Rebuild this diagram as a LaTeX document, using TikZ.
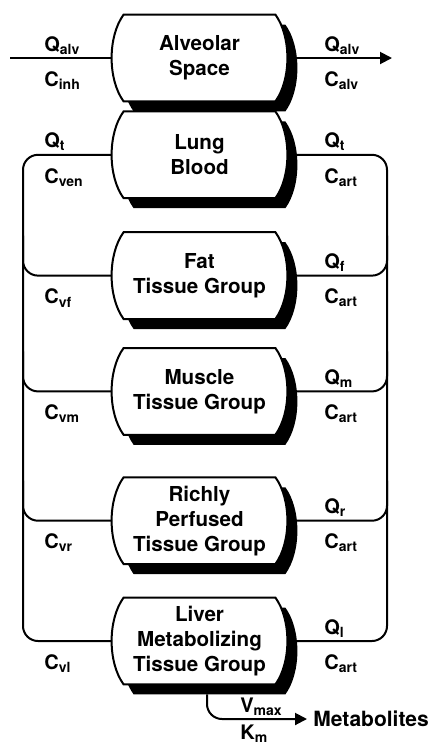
\documentclass[tikz,border=0pt]{standalone}
\usepackage{fontspec}
\setmainfont{TeX Gyre Heros}
\usetikzlibrary{arrows.meta,positioning,calc,backgrounds}

% barrel outline of an organ box, drawn from the node corners
\newcommand{\organshape}[2]{%
  \path[#2] ([xshift=6pt]#1.north west) -- ([xshift=-6pt]#1.north east)
    .. controls ([xshift=2pt,yshift=-11pt]#1.north east) and ([xshift=2pt,yshift=11pt]#1.south east) .. ([xshift=-6pt]#1.south east)
    -- ([xshift=6pt]#1.south west)
    .. controls ([xshift=-2pt,yshift=11pt]#1.south west) and ([xshift=-2pt,yshift=-11pt]#1.north west) .. cycle;}

\begin{document}
\begin{tikzpicture}[
    x=0.5pt, y=-0.5pt,
    organ/.style={minimum width=87.5pt, minimum height=43pt, inner sep=0pt, align=center,
        font=\fontsize{10.3}{12.5}\selectfont\bfseries},
    flow/.style={inner sep=0pt, font=\fontsize{10}{12}\selectfont\bfseries},
    pipe/.style={line width=1pt},
    vessel/.style={line width=1pt, rounded corners=7.5pt},
    arr/.style={line width=1pt, -{Triangle[length=6pt,width=6pt]}}
]
    \useasboundingbox (0,0) rectangle (433,746);

    % Compartments, top to bottom
    \node[organ] (alv) at (199.5,58) {Alveolar\\Space};
    \node[organ, below=5pt of alv] (lung) {Lung\\Blood};
    \node[organ, below=17pt of lung] (fat) {Fat\\Tissue Group};
    \node[organ, below=14.5pt of fat] (musc) {Muscle\\Tissue Group};
    \node[organ, below=21.25pt of musc] (rich) {Richly\\Perfused\\Tissue Group};
    \node[organ, below=16.75pt of rich] (liv) {Liver\\Metabolizing\\Tissue Group};

    % Outlines and shadows behind the text
    \begin{scope}[on background layer]
        \foreach \n in {alv,lung,fat,musc,rich,liv} {
            \begin{scope}[transform canvas={shift={(5pt,-5pt)}}]
                \organshape{\n}{fill=black}
            \end{scope}
            \organshape{\n}{draw, line width=1pt, fill=white}
        }
    \end{scope}

    % Rails and ends
    \coordinate (railL) at (23,0);
    \coordinate (railR) at (387,0);
    \coordinate (lblL) at (44,0);
    \coordinate (lblR) at (324,0);
    \coordinate (inh) at (10,0);
    \coordinate (exh) at (392,0);
    \coordinate (kin) at (240,0);

    % Air
    \draw[pipe] (inh |- alv.west) -- (alv.west);
    \draw[arr] (alv.east) -- (exh |- alv.east);
    \node[flow, anchor=base west, yshift=3.5pt] (qin) at (lblL |- alv.west) {Q\textsubscript{alv}};
    \node[flow, anchor=north west, yshift=-6.5pt] (cin) at (lblL |- alv.west) {C\textsubscript{inh}};
    \node[flow, anchor=base west, yshift=3.5pt] (qout) at (lblR |- alv.east) {Q\textsubscript{alv}};
    \node[flow, anchor=north west, yshift=-6.5pt] (cout) at (lblR |- alv.east) {C\textsubscript{alv}};

    % Blood
    \draw[vessel] (lung.west) -- (railL |- lung.west) -- (railL |- liv.west) -- (liv.west);
    \draw[vessel] (lung.east) -- (railR |- lung.east) -- (railR |- liv.east) -- (liv.east);
    \node[flow, anchor=base west, yshift=3.5pt] (lung-qv) at (lblL |- lung.west) {Q\textsubscript{t}};
    \node[flow, anchor=north west, yshift=-6.5pt] (lung-cv) at (lblL |- lung.west) {C\textsubscript{ven}};
    \node[flow, anchor=base west, yshift=3.5pt] (lung-q) at (lblR |- lung.east) {Q\textsubscript{t}};
    \node[flow, anchor=north west, yshift=-6.5pt] (lung-ca) at (lblR |- lung.east) {C\textsubscript{art}};

    \foreach \n in {fat,musc,rich} {
        \draw[vessel] (\n.west) -- (railL |- \n.west) -- ($(railL |- \n.west)+(0,-40)$);
        \draw[vessel] (\n.east) -- (railR |- \n.east) -- ($(railR |- \n.east)+(0,-40)$);
    }
    \foreach \n/\v/\q in {fat/vf/f, musc/vm/m, rich/vr/r, liv/vl/l} {
        \node[flow, anchor=north west, yshift=-6.5pt] (\n-cv) at (lblL |- \n.west) {C\textsubscript{\v}};
        \node[flow, anchor=base west, yshift=3.5pt] (\n-q) at (lblR |- \n.east) {Q\textsubscript{\q}};
        \node[flow, anchor=north west, yshift=-6.5pt] (\n-ca) at (lblR |- \n.east) {C\textsubscript{art}};
    }

    % Metabolism
    \node[flow, font=\fontsize{10.5}{12}\selectfont\bfseries, anchor=west] (metab) at (313,719) {Metabolites};
    \draw[arr, rounded corners=7.5pt, shorten >=3pt] ([xshift=3.75pt,yshift=-5pt]liv.south) |- (metab.west);
    \node[flow, anchor=base west, yshift=3.5pt] (vmax) at (kin |- metab.west) {V\textsubscript{max}};
    \node[flow, anchor=north west, yshift=-3pt] (km) at (kin |- metab.west) {K\textsubscript{m}};
\end{tikzpicture}
\end{document}
